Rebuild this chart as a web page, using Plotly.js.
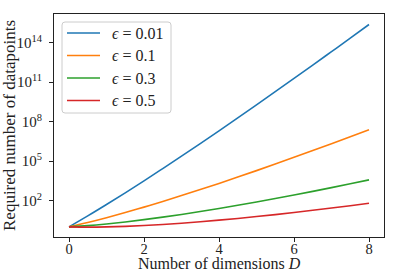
<!DOCTYPE html>
<html><head><meta charset="utf-8">
<script src="https://cdn.plot.ly/plotly-3.0.1.min.js"></script>
<style>html,body{margin:0;padding:0;background:#fff}#c{width:399px;height:279px}</style>
</head><body><div id="c"></div>
<script>
const dims = [0,0.5,1,1.5,2,2.5,3,3.5,4,4.5,5,5.5,6,6.5,7,7.5,8];
const eps001 = [1,6.81,50.0,389,3184,2.71e4,2.39e5,2.17e6,2.03e7,1.94e8,1.90e9,1.90e10,1.94e11,2.01e12,2.12e13,2.26e14,2.46e15];
const eps01  = [1,2.15,5.00,12.3,31.8,85.7,239,686,2026,6138,1.90e4,6.01e4,1.94e5,6.35e5,2.12e6,7.16e6,2.46e7];
const eps03  = [1,1.24,1.67,2.37,3.54,5.50,8.84,14.7,25.0,43.7,78.2,143,265,503,968,1892,3756];
const eps05  = [1,0.963,1.00,1.10,1.27,1.53,1.91,2.45,3.24,4.39,6.08,8.60,12.4,18.2,27.1,41.0,63.1];
const seriesNames = ['<i>ϵ</i> = 0.01','<i>ϵ</i> = 0.1','<i>ϵ</i> = 0.3','<i>ϵ</i> = 0.5'];
const colors = ['#1f77b4','#ff7f0e','#2ca02c','#d62728'];
const xTicks = [0,2,4,6,8];
const yTickVals = [1e2,1e5,1e8,1e11,1e14];
const yTickText = ['10<sup>2</sup>','10<sup>5</sup>','10<sup>8</sup>','10<sup>11</sup>','10<sup>14</sup>'];

const ys = [eps001, eps01, eps03, eps05];
const data = ys.map((y,i)=>({x:dims,y:y,type:'scatter',mode:'lines',name:seriesNames[i],
  line:{color:colors[i],width:1.6,shape:'spline'},showlegend:false}));
const fam = '"Liberation Serif","DejaVu Serif",serif';
const W=399,H=279,L=54,R=15,T=14,B=42;
const pw=W-L-R, ph=H-T-B;
const px=v=>(v-L)/pw, py=v=>(H-B-v)/ph;

// legend drawn as paper-space decoration (box, sample lines, labels)
const box={x0:62,x1:171,y0:22,y1:113,r:3};
const rx=box.r/pw, ry=box.r/ph;
const X0=px(box.x0),X1=px(box.x1),Y0=py(box.y1),Y1=py(box.y0);
const boxPath=`M ${X0+rx},${Y0} L ${X1-rx},${Y0} Q ${X1},${Y0} ${X1},${Y0+ry} L ${X1},${Y1-ry} Q ${X1},${Y1} ${X1-rx},${Y1} L ${X0+rx},${Y1} Q ${X0},${Y1} ${X0},${Y1-ry} L ${X0},${Y0+ry} Q ${X0},${Y0} ${X0+rx},${Y0} Z`;
const shapes=[{type:'path',xref:'paper',yref:'paper',path:boxPath,fillcolor:'rgba(255,255,255,0.8)',line:{color:'#cccccc',width:1}}];
const annotations=[];
const rowY=[33,55.5,78,100.5];
seriesNames.forEach((n,i)=>{
  shapes.push({type:'line',xref:'paper',yref:'paper',x0:px(67),x1:px(100),y0:py(rowY[i]),y1:py(rowY[i]),line:{color:colors[i],width:1.6}});
  annotations.push({xref:'paper',yref:'paper',x:px(110),y:py(rowY[i]),xanchor:'left',yanchor:'middle',showarrow:false,
    text:n,font:{family:fam,size:16,color:'#222'}});
});
annotations.push({xref:'paper',yref:'paper',x:0.5,y:py(263),xanchor:'center',yanchor:'middle',showarrow:false,
  text:'Number of dimensions <i>D</i>',font:{family:fam,size:16,color:'#222'}});

const layout = {
  width:W,height:H,margin:{l:L,r:R,t:T,b:B},
  paper_bgcolor:'#fff',plot_bgcolor:'#fff',font:{family:fam,size:14,color:'#222'},showlegend:false,
  xaxis:{range:[-0.4,8.4],tickvals:xTicks,ticks:'outside',ticklen:4,tickcolor:'#222',ticklabelstandoff:-5,
    showline:true,mirror:true,linecolor:'#222',linewidth:1,showgrid:false,zeroline:false,
    tickfont:{family:fam,size:14.5,color:'#222'}},
  yaxis:{type:'log',range:[-0.77,16.19],tickvals:yTickVals,ticktext:yTickText,ticks:'outside',ticklen:4,tickcolor:'#222',
    showline:true,mirror:true,linecolor:'#222',linewidth:1,showgrid:false,zeroline:false,ticklabelstandoff:4,
    tickfont:{family:fam,size:15,color:'#222'},
    title:{text:'Required number of datapoints',font:{family:fam,size:17,color:'#222'},standoff:2}},
  shapes:shapes, annotations:annotations
};
Plotly.newPlot('c',data,layout,{staticPlot:true,displayModeBar:false});
</script></body></html>
